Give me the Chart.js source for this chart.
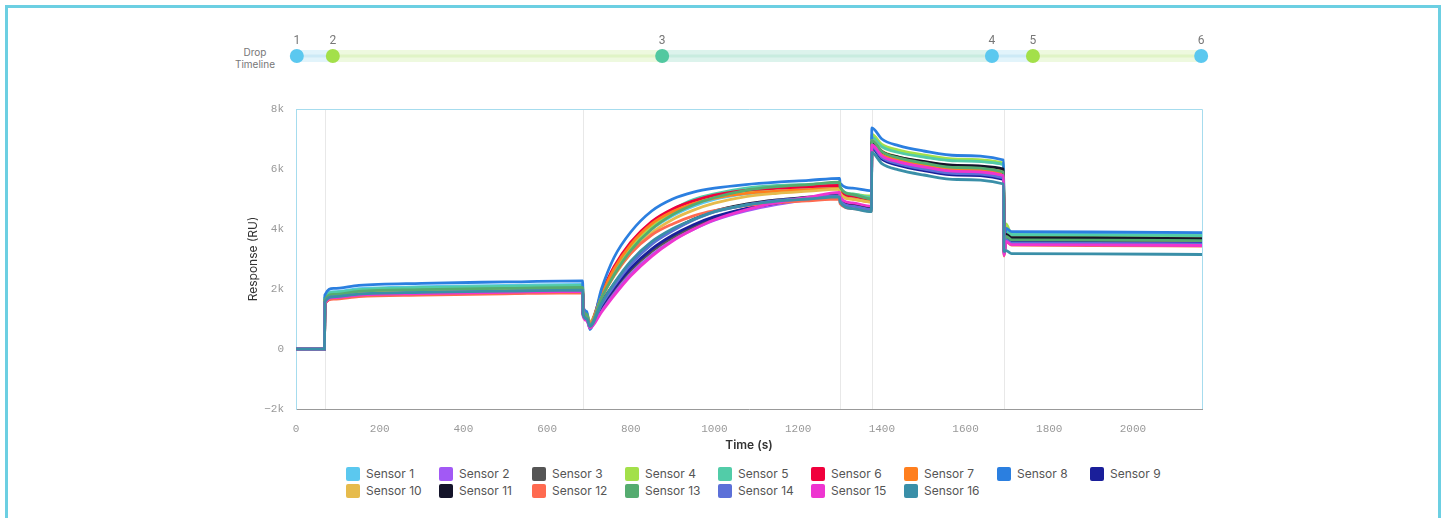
<!DOCTYPE html>
<html>
<head>
<meta charset="utf-8">
<script src="https://cdn.jsdelivr.net/npm/chart.js@4.4.0/dist/chart.umd.min.js"></script>
<style>
  body { margin: 0; background: #fff; font-family: Inter, "Noto Sans", sans-serif; }
  #frame { position: absolute; left: 5px; top: 5px; width: 1436px; height: 600px; border: 3px solid #6ccfe2; box-sizing: border-box; }
  #main { position: absolute; left: 0; top: 0; }
  #timeline { position: absolute; left: 0; top: 31px; }
  #dropLabel { position: absolute; left: 225px; top: 46px; width: 60px; text-align: center; font-size: 10px; line-height: 12px; color: #777; }
  #legend { position: absolute; left: 346px; top: 465px; display: grid; grid-template-columns: repeat(9, 93px); font-size: 12px; color: #555; }
  .item { display: flex; align-items: center; height: 17px; white-space: nowrap; }
  .box { width: 14px; height: 14px; border-radius: 2px; margin-right: 6px; }
</style>
</head>
<body>
<div id="frame"></div>
<div id="dropLabel">Drop<br>Timeline</div>
<canvas id="timeline" width="1445" height="50"></canvas>
<canvas id="main" width="1445" height="460"></canvas>
<div id="legend"></div>
<script>
// drop timeline
const dropNames = ['1', '2', '3', '4', '5', '6'];
const dropTimes = [2, 88, 875, 1663, 1761, 2163];
const dropColors = ['#5bc8ef', '#a3e04a', '#52c8a0', '#5bc8ef', '#a3e04a', '#5bc8ef'];
const bandColors = ['#e2f4fb', '#eef9df', '#dcf3ec', '#e2f4fb', '#eef9df'];
const bandLines = ['#cdeaf6', '#e0f4c6', '#c8ecdf', '#cdeaf6', '#e0f4c6'];

// vertical event lines in the sensorgram
const eventTimes = [69, 686, 1300, 1376, 1692];

// time points (s)
const times = [0, 68, 69, 90, 150, 300, 500, 685, 686, 695, 702, 730, 760, 800, 850, 900, 950, 1000, 1075, 1150, 1225, 1299,
  1300, 1330, 1375, 1376, 1400, 1440, 1500, 1580, 1691, 1692, 1697, 1710, 1900, 2165];

const sensorNames = ['Sensor 1', 'Sensor 2', 'Sensor 3', 'Sensor 4', 'Sensor 5', 'Sensor 6', 'Sensor 7', 'Sensor 8',
  'Sensor 9', 'Sensor 10', 'Sensor 11', 'Sensor 12', 'Sensor 13', 'Sensor 14', 'Sensor 15', 'Sensor 16'];
const sensorColors = ['#5bc8ef', '#a259f5', '#555555', '#a3e04a', '#52cca8', '#f0003c', '#ff7f1e', '#2b7fe0',
  '#1a1f9a', '#e6bb4c', '#14142a', '#ff6a50', '#55ac70', '#5c70d8', '#ee35d0', '#3a8fa8'];

// response (RU)
const s1 = [0,0, 1720,1910,2010,2075,2120,2150, 1300,1150, 850,1760,2530,3310,3990,4440,4760,4990,5170,5260,5330,5400, 5250,5080,4980, 7100,6770,6580,6420,6280,6150, 3500,3970,3860,3850,3830];
const s2 = [0,0, 1540,1710,1800,1850,1890,1920, 1150,1000, 750,1300,1850,2500,3130,3620,3990,4290,4600,4820,4980,5100, 4950,4780,4690, 6750,6380,6170,6000,5850,5700, 3150,3620,3510,3500,3480];
const s3 = [0,0, 1540,1720,1800,1860,1900,1930, 1200,1050, 800,1420,1990,2630,3250,3720,4080,4370,4670,4880,5020,5130, 4980,4800,4720, 6800,6450,6250,6080,5940,5800, 3210,3680,3570,3560,3540];
const s4 = [0,0, 1680,1870,1960,2030,2070,2100, 1350,1200, 900,1820,2600,3380,4070,4530,4860,5090,5270,5360,5430,5480, 5330,5160,5100, 7150,6820,6630,6470,6330,6200, 3430,4170,3800,3780,3760];
const s5 = [0,0, 1700,1890,1980,2050,2090,2120, 1300,1150, 800,1800,2650,3510,4220,4650,4980,5170,5360,5450,5490,5530, 5380,5170,5060, 7050,6740,6550,6400,6270,6150, 3450,3920,3810,3800,3780];
const s6 = [0,0, 1590,1760,1850,1910,1950,1980, 1250,1100, 850,1860,2740,3560,4250,4670,4940,5130,5290,5360,5410,5450, 5300,5100,4970, 6850,6500,6300,6140,5990,5850, 3230,3700,3590,3580,3560];
const s7 = [0,0, 1600,1770,1860,1920,1960,1990, 1250,1100, 800,1800,2670,3480,4170,4580,4850,5030,5190,5260,5310,5350, 5200,5000,4900, 6850,6500,6300,6140,5990,5850, 3250,3720,3610,3600,3580];
const s8 = [0,0, 1800,2020,2120,2190,2235,2270, 1400,1250, 650,2000,3050,3900,4600,5000,5230,5360,5480,5560,5620,5690, 5530,5360,5280, 7370,7000,6780,6600,6450,6300, 3550,4020,3910,3900,3880];
const s9 = [0,0, 1520,1690,1780,1830,1870,1900, 1150,1000, 750,1430,2020,2700,3330,3790,4140,4410,4680,4870,5000,5110, 4960,4780,4700, 6700,6330,6120,5950,5800,5650, 3200,3670,3560,3550,3530];
const s10 = [0,0, 1600,1780,1870,1930,1970,2000, 1250,1100, 850,1700,2430,3190,3870,4320,4630,4860,5080,5190,5260,5330, 5180,4990,4900, 6950,6600,6400,6240,6090,5950, 3330,3800,3690,3680,3660];
const s11 = [0,0, 1520,1690,1780,1830,1870,1900, 1200,1050, 800,1550,2160,2870,3530,3970,4320,4600,4830,4970,5060,5150, 5000,4820,4740, 6900,6580,6400,6250,6120,6000, 3350,3820,3710,3700,3680];
const s12 = [0,0, 1500,1660,1750,1800,1840,1870, 1200,1050, 850,1710,2450,3190,3800,4170,4440,4610,4780,4870,4940,5000, 4850,4680,4600, 6800,6430,6220,6050,5900,5750, 3100,3570,3460,3450,3430];
const s13 = [0,0, 1640,1820,1920,1980,2020,2050, 1300,1150, 800,1710,2470,3290,4000,4480,4810,5050,5290,5410,5480,5560, 5400,5150,5000, 6950,6580,6370,6200,6050,5900, 3280,3750,3640,3630,3610];
const s14 = [0,0, 1560,1740,1820,1880,1920,1950, 1150,1000, 700,1470,2100,2820,3490,3940,4300,4570,4800,4950,5040,5110, 4960,4760,4660, 6750,6380,6170,6000,5850,5700, 3170,3640,3530,3520,3500];
const s15 = [0,0, 1540,1710,1800,1850,1890,1920, 1100,950, 700,1230,1780,2440,3090,3600,3990,4310,4640,4880,5060,5220, 5070,4870,4760, 6800,6440,6240,6070,5920,5780, 3120,3590,3480,3470,3450];
const s16 = [0,0, 1570,1740,1830,1890,1930,1960, 1150,1000, 750,1530,2190,2930,3580,4010,4320,4580,4800,4930,5000,5070, 4900,4680,4580, 6550,6180,5970,5800,5650,5500, 3250,3280,3180,3170,3150];
const sensorValues = [s1, s2, s3, s4, s5, s6, s7, s8, s9, s10, s11, s12, s13, s14, s15, s16];

const xMax = 2165;
const xTicks = [0, 200, 400, 600, 800, 1000, 1200, 1400, 1600, 1800, 2000];
const yTicks = [-2000, 0, 2000, 4000, 6000, 8000];

// ---- timeline ----
const tlDatasets = [];
for (let i = 0; i < dropTimes.length - 1; i++) {
  const seg = [{x: dropTimes[i], y: 0.5}, {x: dropTimes[i + 1], y: 0.5}];
  tlDatasets.push({data: seg, borderColor: bandColors[i], borderWidth: 12, pointRadius: 0, borderCapStyle: 'butt', order: 3});
  tlDatasets.push({data: seg, borderColor: bandLines[i], borderWidth: 3, pointRadius: 0, borderCapStyle: 'butt', order: 2});
}
tlDatasets.push({
  data: dropTimes.map(t => ({x: t, y: 0.5})),
  showLine: false, pointRadius: 7, pointBorderWidth: 0,
  pointBackgroundColor: dropColors, clip: false, order: 1
});

const dropNumbers = {
  id: 'dropNumbers',
  afterDatasetsDraw(chart) {
    const {ctx, scales: {x, y}} = chart;
    ctx.save();
    ctx.fillStyle = '#777';
    ctx.font = '12px Roboto';
    ctx.textAlign = 'center';
    ctx.textBaseline = 'middle';
    dropTimes.forEach((t, i) => ctx.fillText(dropNames[i], x.getPixelForValue(t), y.getPixelForValue(0.5) - 15));
    ctx.restore();
  }
};

new Chart(document.getElementById('timeline'), {
  type: 'line',
  data: {datasets: tlDatasets},
  options: {
    responsive: false, animation: false, events: [],
    layout: {padding: {left: 296, right: 243, top: 0, bottom: 0}},
    plugins: {legend: {display: false}, tooltip: {enabled: false}},
    scales: {
      x: {type: 'linear', min: 0, max: xMax, display: false},
      y: {min: 0, max: 1, display: false}
    }
  },
  plugins: [dropNumbers]
});

// ---- sensorgram ----
const eventLines = {
  id: 'eventLines',
  beforeDatasetsDraw(chart) {
    const {ctx, chartArea: a, scales: {x}} = chart;
    ctx.save();
    ctx.lineWidth = 1;
    ctx.strokeStyle = '#e8e8e8';
    eventTimes.forEach(t => {
      const px = Math.round(x.getPixelForValue(t)) + 0.5;
      ctx.beginPath(); ctx.moveTo(px, a.top); ctx.lineTo(px, a.bottom); ctx.stroke();
    });
    ctx.strokeStyle = '#a6dcee';
    ctx.beginPath();
    ctx.moveTo(a.left, a.top + 0.5); ctx.lineTo(a.right + 0.5, a.top + 0.5); ctx.lineTo(a.right + 0.5, a.bottom);
    ctx.stroke();
    ctx.restore();
  }
};

new Chart(document.getElementById('main'), {
  type: 'line',
  data: {
    datasets: sensorNames.map((name, i) => ({
      label: name,
      data: times.map((t, j) => ({x: t, y: sensorValues[i][j]})),
      borderColor: sensorColors[i],
      backgroundColor: sensorColors[i],
      borderWidth: 2.8,
      pointRadius: 0,
      cubicInterpolationMode: 'monotone',
      order: 16 - i
    }))
  },
  options: {
    responsive: false, animation: false, events: [],
    layout: {padding: {left: 230, right: 243, top: 109, bottom: 0}},
    plugins: {legend: {display: false}, tooltip: {enabled: false}},
    scales: {
      x: {
        type: 'linear', min: 0, max: xMax,
        afterBuildTicks(axis) { axis.ticks = xTicks.map(v => ({value: v})); },
        ticks: {padding: 13, maxRotation: 0, autoSkip: false, color: '#999', font: {family: 'Liberation Mono', size: 11}, callback: v => String(v)},
        grid: {color: 'transparent', drawTicks: false},
        border: {color: '#999'},
        title: {display: true, text: 'Time (s)', color: '#333', font: {family: 'Inter', size: 12, weight: '600'}, padding: {top: 0, bottom: 7}},
        afterFit(axis) { axis.height = 51; }
      },
      y: {
        min: yTicks[0], max: yTicks[yTicks.length - 1],
        afterBuildTicks(axis) { axis.ticks = yTicks.map(v => ({value: v})); },
        ticks: {
          padding: 12, color: '#999', font: {family: 'Liberation Mono', size: 11},
          callback: v => v === 0 ? '0' : (v < 0 ? '\u2212' : '') + Math.abs(v) / 1000 + 'k'
        },
        grid: {color: 'transparent', drawTicks: false},
        border: {color: '#a6dcee'},
        title: {display: true, text: 'Response (RU)', color: '#333', font: {family: 'Inter', size: 12}, padding: {top: 16, bottom: 0}},
        afterFit(axis) { axis.width = 66; }
      }
    }
  },
  plugins: [eventLines]
});

// legend
const legend = document.getElementById('legend');
sensorNames.forEach((name, i) => {
  const item = document.createElement('div');
  item.className = 'item';
  item.innerHTML = '<span class="box" style="background:' + sensorColors[i] + '"></span>' + name;
  legend.appendChild(item);
});
</script>
</body>
</html>
